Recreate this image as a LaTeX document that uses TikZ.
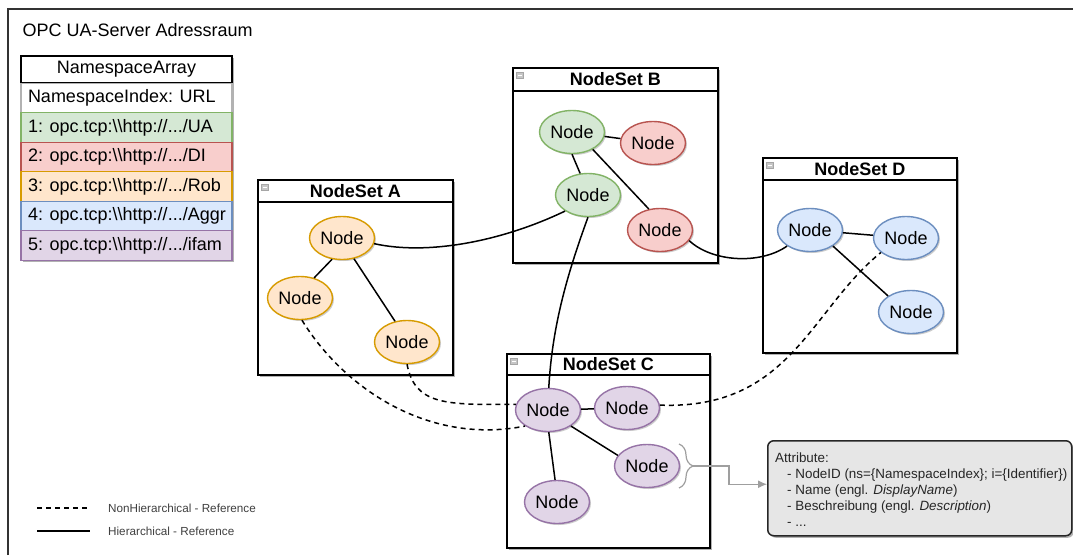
\documentclass[tikz,border=0pt]{standalone}
\usepackage{fontspec}
\setmainfont{Liberation Sans}
\usetikzlibrary{shapes.geometric,shadows,decorations.pathreplacing,arrows.meta,calc}
\definecolor{gF}{HTML}{D5E8D4}\definecolor{gS}{HTML}{82B366}
\definecolor{rF}{HTML}{F8CECC}\definecolor{rS}{HTML}{B85450}
\definecolor{oF}{HTML}{FFE6CC}\definecolor{oS}{HTML}{D79B00}
\definecolor{bF}{HTML}{DAE8FC}\definecolor{bS}{HTML}{6C8EBF}
\definecolor{pF}{HTML}{E1D5E7}\definecolor{pS}{HTML}{9673A6}
\definecolor{attrF}{HTML}{E6E6E6}
\newcommand{\nsrowtext}[1]{\makebox[197pt][l]{#1}}
\begin{document}
\begin{tikzpicture}[x=1pt,y=-1pt,
  shd/.style={drop shadow={shadow xshift=2pt,shadow yshift=-2pt,opacity=0.3,fill=black}},
  nd/.style={ellipse, minimum width=65pt, minimum height=43pt, inner sep=0pt, line width=1.4pt,
    font=\fontsize{18}{20}\selectfont, drop shadow={shadow xshift=1.5pt,shadow yshift=-1.5pt,opacity=0.2,fill=black}},
  ndO/.style={nd, fill=oF, draw=oS},
  ndG/.style={nd, fill=gF, draw=gS},
  ndR/.style={nd, fill=rF, draw=rS},
  ndB/.style={nd, fill=bF, draw=bS},
  ndP/.style={nd, fill=pF, draw=pS},
  setbox/.style={rectangle, draw=black, line width=1.9pt, fill=white, inner sep=0pt, anchor=north west, shd},
  setline/.style={black, line width=1.9pt},
  settitle/.style={font=\bfseries\fontsize{18}{20}\selectfont, inner sep=0pt},
  iconbox/.style={rectangle, minimum width=7pt, minimum height=6pt, inner sep=0pt, fill=gray!45, draw=gray!70, line width=0.5pt,
    path picture={\draw[white,line width=0.8pt] ([xshift=-2pt]path picture bounding box.center) -- ([xshift=2pt]path picture bounding box.center);}},
  nsrow/.style={rectangle, minimum width=211pt, minimum height=29.5pt, inner xsep=7pt, inner ysep=0pt,
    line width=1.2pt, font=\fontsize{18}{20}\selectfont, shd},
  hl/.style={black, line width=1.5pt},
  dl/.style={black, line width=1.5pt, dash pattern=on 5pt off 4pt},
  legtxt/.style={font=\fontsize{11.7}{13}\selectfont, text=black!75, inner sep=0pt, anchor=west},
]
\useasboundingbox (0,0) rectangle (1073,555);
\fill[white] (0,0) rectangle (1073,555);
% outer frame
\draw[black!80, line width=1.5pt] (8,555) -- (8,9) -- (1073,9);
\node[font=\fontsize{18}{21}\selectfont, inner sep=0pt, anchor=west] (title) at (22.5,30) {OPC UA-Server Adressraum};

% Namespace array
\node[nsrow, draw=black, fill=white, line width=1.5pt, minimum height=27pt] (nsh) at (126.5,69.5) {\makebox[197pt][c]{NamespaceArray}};
\node[nsrow, draw=gray!60, fill=white] (ns0) at (126.5,98) {\nsrowtext{NamespaceIndex: URL}};
\node[nsrow, draw=gS, fill=gF] (ns1) at (126.5,127.5) {\nsrowtext{1: opc.tcp:\textbackslash\textbackslash http://.../UA}};
\node[nsrow, draw=rS, fill=rF] (ns2) at (126.5,157) {\nsrowtext{2: opc.tcp:\textbackslash\textbackslash http://.../DI}};
\node[nsrow, draw=oS, fill=oF] (ns3) at (126.5,186.5) {\nsrowtext{3: opc.tcp:\textbackslash\textbackslash http://.../Rob}};
\node[nsrow, draw=bS, fill=bF] (ns4) at (126.5,216) {\nsrowtext{4: opc.tcp:\textbackslash\textbackslash http://.../Aggr}};
\node[nsrow, draw=pS, fill=pF] (ns5) at (126.5,245.5) {\nsrowtext{5: opc.tcp:\textbackslash\textbackslash http://.../ifam}};

% NodeSet containers
\node[setbox, minimum width=195pt, minimum height=195pt] (setA) at (257,179) {};
\draw[setline] ($(setA.north west)+(0,23)$) -- ($(setA.north east)+(0,23)$);
\node[settitle] (tA) at ($(setA.north)+(0,12)$) {NodeSet A};
\node[iconbox] (iA) at ($(setA.north west)+(8,8)$) {};

\node[setbox, minimum width=205pt, minimum height=195pt] (setB) at (512,67) {};
\draw[setline] ($(setB.north west)+(0,24)$) -- ($(setB.north east)+(0,24)$);
\node[settitle] (tB) at ($(setB.north)+(0,12.5)$) {NodeSet B};
\node[iconbox] (iB) at ($(setB.north west)+(8,8)$) {};

\node[setbox, minimum width=194pt, minimum height=195pt] (setD) at (762,157) {};
\draw[setline] ($(setD.north west)+(0,23)$) -- ($(setD.north east)+(0,23)$);
\node[settitle] (tD) at ($(setD.north)+(0,12)$) {NodeSet D};
\node[iconbox] (iD) at ($(setD.north west)+(8,8)$) {};

\node[setbox, minimum width=203pt, minimum height=194pt] (setC) at (506,353) {};
\draw[setline] ($(setC.north west)+(0,22)$) -- ($(setC.north east)+(0,22)$);
\node[settitle] (tC) at ($(setC.north)+(0,11.5)$) {NodeSet C};
\node[iconbox] (iC) at ($(setC.north west)+(8,8)$) {};

% Nodes
\node[ndO] (a1) at (342,238) {Node};
\node[ndO] (a2) at (300,298) {Node};
\node[ndO] (a3) at (407,342) {Node};
\node[ndG] (g1) at (572,132) {Node};
\node[ndR] (r1) at (653,143) {Node};
\node[ndG] (g2) at (588,195) {Node};
\node[ndR] (r2) at (660,230) {Node};
\node[ndB] (b1) at (810,230) {Node};
\node[ndB] (b2) at (906,238) {Node};
\node[ndB] (b3) at (911,312) {Node};
\node[ndP] (p1) at (548,410) {Node};
\node[ndP] (p2) at (627,408) {Node};
\node[ndP] (p3) at (647,466) {Node};
\node[ndP] (p4) at (557,502) {Node};

% hierarchical references
\draw[hl] (a1.-115) -- (a2.55);
\draw[hl] (a1.-60) -- (a3.120);
\draw[hl] (a1.-10) .. controls (430,256) and (505,240) .. (g2.215);
\draw[hl] (g1) -- (r1);
\draw[hl] (g1.south) -- (g2.110);
\draw[hl] (g1.-40) -- (r2.118);
\draw[hl] (g2.south) .. controls (565,280) and (552,330) .. (p1.88);
\draw[hl] (r2.-20) .. controls (712,262) and (760,265) .. (b1.215);
\draw[hl] (b1) -- (b2);
\draw[hl] (b1.-35) -- (b3.145);
\draw[hl] (p1) -- (p2);
\draw[hl] (p1.-35) -- (p3.160);
\draw[hl] (p1.-88) -- (p4.95);

% non-hierarchical references
\draw[dl] (a2.-85) .. controls (345,390) and (430,445) .. (p1.215);
\draw[dl] (a3.south) .. controls (415,405) and (445,405) .. (p1.170);
\draw[dl] (p2.5) .. controls (790,410) and (810,310) .. (b2.210);

% attribute box
\node[rectangle, rounded corners=6pt, fill=attrF, draw=black!85, line width=1.5pt, anchor=north west,
  minimum width=304pt, minimum height=95pt, shd] (attr) at (767,440) {};
\node[font=\fontsize{13.4}{16}\selectfont, align=left, inner sep=0pt, anchor=north west, text=black!85] (attrtxt) at (775,453)
  {Attribute:\\
   \hspace*{12pt}- NodeID (ns=\{NamespaceIndex\}; i=\{Identifier\})\\
   \hspace*{12pt}- Name (engl. \textit{DisplayName})\\
   \hspace*{12pt}- Beschreibung (engl. \textit{Description})\\
   \hspace*{12pt}- ...};

% brace and arrow
\draw[gray!75, line width=1.2pt, decorate, decoration={brace, amplitude=14pt}] (679,444) -- (679,488);
\coordinate (bt) at (693,466);
\draw[gray!75, line width=1.2pt, -{Latex[length=9pt,width=8pt]}] (bt) -- (729,466) |- ([yshift=4pt]attr.west);

% legend
\coordinate (l1a) at (37,508); \coordinate (l1b) at (90,508);
\coordinate (l2a) at (37,531); \coordinate (l2b) at (90,531);
\draw[dl] (l1a) -- (l1b);
\draw[hl] (l2a) -- (l2b);
\node[legtxt] (lt1) at (108,508) {NonHierarchical - Reference};
\node[legtxt] (lt2) at (108,531) {Hierarchical - Reference};
\end{tikzpicture}
\end{document}
